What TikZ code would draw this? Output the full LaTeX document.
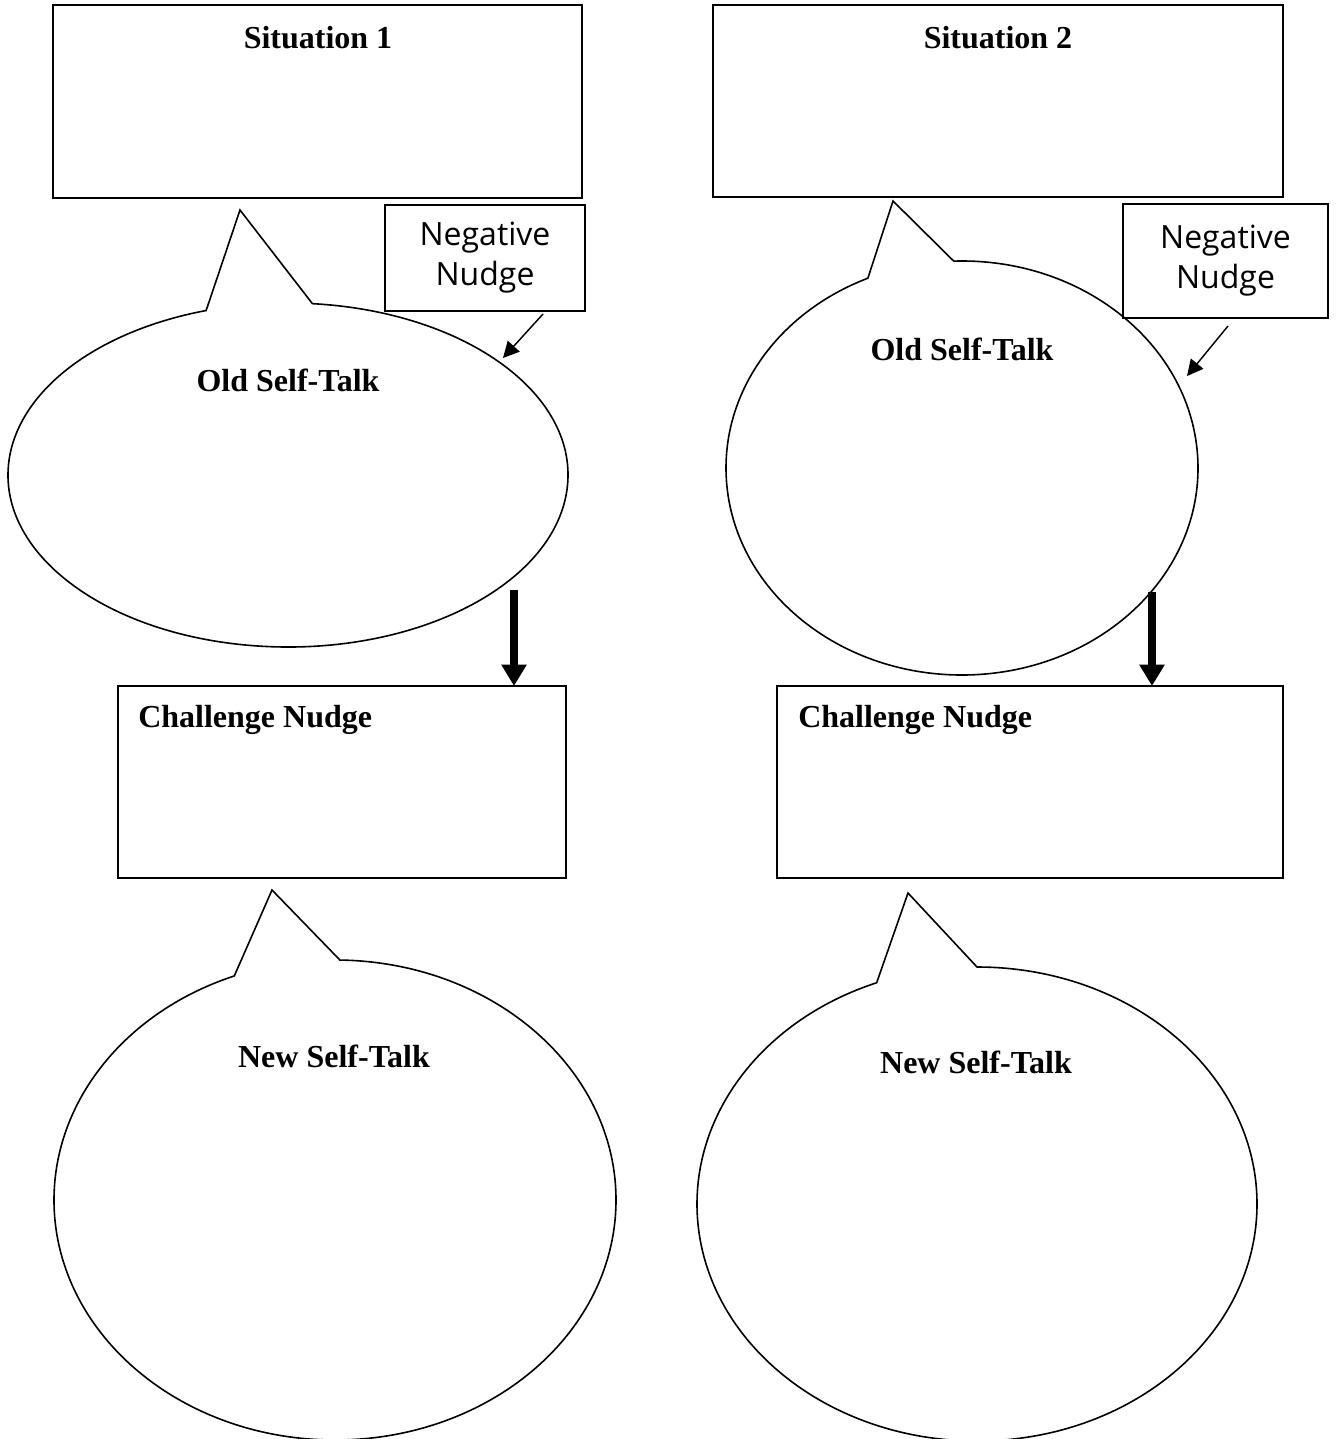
\documentclass[tikz,border=0pt]{standalone}
\usepackage{fontspec}
\setmainfont{Liberation Serif}
\newfontfamily\nudgefont{Open Sans}
\usetikzlibrary{arrows.meta,calc}
\begin{document}
\begin{tikzpicture}[x=0.75pt,y=0.75pt,
  box/.style={draw,line width=1.5pt,inner sep=0pt,outer sep=0pt},
  bubble/.style={draw,line width=1.2pt,line join=miter},
  title/.style={font=\bfseries\fontsize{24}{28}\selectfont,inner sep=0pt,anchor=base},
  nudgetext/.style={font=\nudgefont\fontsize{24}{30}\selectfont,align=center},
  thinarrow/.style={-{Triangle[width=12pt,length=12pt]},line width=1.1pt},
  thickarrow/.style={-{Triangle[width=18pt,length=16pt]},line width=5.5pt}]
\useasboundingbox (0,0) rectangle (1336,-1439);
\clip (0,0) rectangle (1336,-1439);

% ---------------- left column ----------------
\node[box,minimum width=396.75pt,minimum height=144.75pt] (sit1) at (317.5,-101.5) {};
\node[title] (sit1t) at (318,-48) {Situation 1};

\node[box,minimum width=150pt,minimum height=79.5pt,nudgetext] (nn1) at (485,-258) {Negative\\Nudge};

\coordinate (old1) at (288,-475);
\coordinate (old1tip) at (240,-210);
\draw[bubble] ($(old1)+(107:280 and 172)$) -- (old1tip) -- ($(old1)+(85:280 and 172)$)
  arc[start angle=85,end angle=-253,x radius=280,y radius=172] -- cycle;
\node[title] (old1t) at (288,-391) {Old Self-Talk};

\coordinate (nn1s) at (543,-314);
\coordinate (nn1e) at (503,-358);
\draw[thinarrow] (nn1s) -- (nn1e);

\node[box,minimum width=336pt,minimum height=144pt] (ch1) at (342,-782) {};
\node[title,anchor=base west] (ch1t) at (138,-727) {Challenge Nudge};

\coordinate (a1s) at (514,-590);
\draw[thickarrow] (a1s) -- (a1s |- ch1.north);

\coordinate (new1) at (335,-1200);
\coordinate (new1tip) at (272,-890);
\draw[bubble] ($(new1)+(111:281 and 240)$) -- (new1tip) -- ($(new1)+(89:281 and 240)$)
  arc[start angle=89,end angle=-249,x radius=281,y radius=240] -- cycle;
\node[title] (new1t) at (334,-1067) {New Self-Talk};

% ---------------- right column ----------------
\node[box,minimum width=427.5pt,minimum height=144pt] (sit2) at (998,-101) {};
\node[title] (sit2t) at (998,-48) {Situation 2};

\node[box,minimum width=153.75pt,minimum height=85.5pt,nudgetext] (nn2) at (1225.5,-261) {Negative\\Nudge};

\coordinate (old2) at (962,-468);
\coordinate (old2tip) at (893,-201);
\draw[bubble] ($(old2)+(113.5:236 and 207)$) -- (old2tip) -- ($(old2)+(92:236 and 207)$)
  arc[start angle=92,end angle=-246.5,x radius=236,y radius=207] -- cycle;
\node[title] (old2t) at (962,-360) {Old Self-Talk};

\coordinate (nn2s) at (1228,-326);
\coordinate (nn2e) at (1187,-376);
\draw[thinarrow] (nn2s) -- (nn2e);

\node[box,minimum width=379.5pt,minimum height=144pt] (ch2) at (1030,-782) {};
\node[title,anchor=base west] (ch2t) at (798,-727) {Challenge Nudge};

\coordinate (a2s) at (1152,-592);
\draw[thickarrow] (a2s) -- (a2s |- ch2.north);

\coordinate (new2) at (977,-1204);
\coordinate (new2tip) at (908,-893);
\draw[bubble] ($(new2)+(111:280 and 237)$) -- (new2tip) -- ($(new2)+(90:280 and 237)$)
  arc[start angle=90,end angle=-249,x radius=280,y radius=237] -- cycle;
\node[title] (new2t) at (976,-1073) {New Self-Talk};
\end{tikzpicture}
\end{document}
